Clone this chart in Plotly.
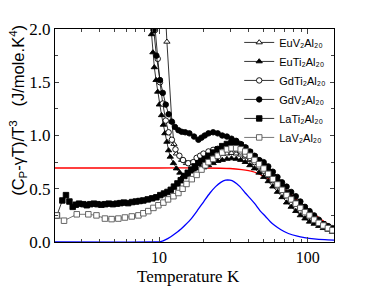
import plotly.graph_objects as go

# ---------------- data ----------------
T_EuV = [10.9, 11.3, 12.2, 12.6, 13.1, 14.2, 15.3, 16.2, 17.1, 18.0, 19.0,
         20.0, 21.5, 23.1, 24.8, 26.6, 28.6, 30.7, 33.0, 35.4, 38.0, 40.8, 43.8, 47.0, 50.5, 54.2,
         58.2, 62.5, 67.1, 72.0, 77.3, 83.0, 89.1, 95.7, 102.7, 110.3, 118.4, 127.1, 136.5, 146.5]
V_EuV = [2.30, 1.88, 1.13, 0.92, 0.83, 0.77, 0.74, 0.74, 0.745, 0.75, 0.765,
         0.78, 0.79, 0.80, 0.815, 0.825, 0.83, 0.835, 0.83, 0.82, 0.80, 0.77, 0.74, 0.70, 0.66, 0.62,
         0.57, 0.53, 0.48, 0.44, 0.39, 0.35, 0.31, 0.28, 0.24, 0.21, 0.18, 0.155, 0.13, 0.11]

T_EuTi = [8.5, 8.9, 9.1, 9.3, 9.55, 9.8, 10.05, 10.4, 10.7, 10.95, 11.3, 11.6, 11.9, 12.5, 13.1,
          13.8, 14.5, 15.3, 16.1, 17.0, 18.0, 19.0,
          20.0, 21.5, 23.1, 24.8, 26.6, 28.6, 30.7, 33.0, 35.4, 38.0, 40.8, 43.8, 47.0, 50.5, 54.2,
          58.2, 62.5, 67.1, 72.0, 77.3, 83.0, 89.1, 95.7, 102.7, 110.3, 118.4, 127.1, 136.5, 146.5]
V_EuTi = [2.30, 1.95, 1.78, 1.64, 1.52, 1.41, 1.29, 1.19, 1.10, 1.02, 0.94, 0.86, 0.80, 0.74, 0.69,
          0.65, 0.62, 0.63, 0.66, 0.68, 0.69, 0.695,
          0.70, 0.72, 0.74, 0.76, 0.77, 0.78, 0.785, 0.78, 0.77, 0.75, 0.72, 0.69, 0.65, 0.61, 0.57,
          0.52, 0.47, 0.42, 0.37, 0.33, 0.29, 0.25, 0.22, 0.19, 0.17, 0.15, 0.13, 0.115, 0.095]

T_GdTi = [9.0, 9.4, 9.8, 10.15, 10.6, 11.1, 11.6, 12.2, 12.9, 13.7, 14.5, 15.7, 17.0, 17.9, 18.9,
          19.9, 21.5, 23.1, 24.8, 26.6, 28.6, 30.7, 33.0, 35.4, 38.0, 40.8, 43.8, 47.0, 50.5, 54.2,
          58.2, 62.5, 67.1, 72.0, 77.3, 83.0, 89.1, 95.7, 102.7, 110.3, 118.4, 127.1, 136.5, 146.5]
V_GdTi = [2.30, 1.99, 1.72, 1.50, 1.30, 1.14, 1.03, 0.96, 0.87, 0.81, 0.77, 0.74, 0.75, 0.79, 0.81,
          0.83, 0.85, 0.865, 0.875, 0.88, 0.885, 0.88, 0.87, 0.85, 0.82, 0.79, 0.75, 0.71, 0.67, 0.63,
          0.58, 0.53, 0.49, 0.44, 0.40, 0.36, 0.32, 0.28, 0.25, 0.22, 0.19, 0.16, 0.14, 0.115]

T_GdV = [8.6, 9.2, 9.6, 10.15, 10.6, 11.1, 11.6, 12.2, 12.8, 13.5, 14.2, 15.0, 16.0, 17.2, 18.4,
         19.3, 20.3, 21.5, 23.1, 24.8, 26.6, 28.6, 30.7, 33.0, 35.4, 38.0, 40.8, 43.8, 47.0, 50.5,
         54.2, 58.2, 62.5, 67.1, 72.0, 77.3, 83.0, 89.1, 95.7, 102.7, 110.3, 118.4, 127.1, 136.5, 146.5]
V_GdV = [2.40, 1.99, 1.75, 1.52, 1.40, 1.29, 1.20, 1.13, 1.08, 1.05, 1.035, 1.03, 1.02, 0.99, 0.96,
         0.98, 1.00, 1.02, 1.03, 1.02, 1.00, 0.99, 0.97, 0.95, 0.92, 0.89, 0.85, 0.81, 0.77, 0.75,
         0.71, 0.66, 0.61, 0.56, 0.52, 0.47, 0.43, 0.38, 0.33, 0.29, 0.25, 0.21, 0.17, 0.15, 0.13]

T_LaTi = [2.06, 2.24, 2.37, 2.5, 2.63, 2.76, 2.9, 3.1, 3.27, 3.45, 3.65, 3.85, 4.1, 4.35, 4.6,
          4.9, 5.2, 5.5, 5.8, 6.2, 6.6, 7.0, 7.4, 7.85, 8.4, 9.0, 9.6, 10.2, 10.8, 11.4, 12.0,
          12.6, 13.3, 14.0, 14.8, 15.6, 16.5, 17.4, 18.4, 19.3,
          20.3, 21.5, 23.1, 24.8, 26.6, 28.6, 30.7, 33.0, 35.4, 38.0, 40.8, 43.8, 47.0, 50.5, 54.2,
          58.2, 62.5, 67.1, 72.0, 77.3, 83.0, 89.1, 95.7, 102.7, 110.3, 118.4, 127.1, 136.5, 146.5]
V_LaTi = [0.25, 0.39, 0.44, 0.38, 0.33, 0.35, 0.36, 0.355, 0.345, 0.355, 0.36, 0.355, 0.35, 0.355, 0.36,
          0.355, 0.36, 0.365, 0.37, 0.365, 0.375, 0.38, 0.385, 0.39, 0.40, 0.41, 0.42, 0.44, 0.455, 0.47, 0.49,
          0.52, 0.55, 0.58, 0.62, 0.65, 0.68, 0.71, 0.74, 0.76,
          0.78, 0.81, 0.84, 0.87, 0.90, 0.92, 0.93, 0.93, 0.91, 0.88, 0.84, 0.80, 0.76, 0.71, 0.66,
          0.61, 0.56, 0.51, 0.46, 0.41, 0.37, 0.33, 0.29, 0.26, 0.22, 0.19, 0.165, 0.14, 0.115]

T_LaV = [2.05, 2.3, 2.8, 3.35, 3.8, 4.33, 4.8, 5.33, 5.9, 6.56, 7.27, 7.85, 8.47, 9.17, 9.9,
         10.7, 11.5, 12.5, 13.5, 14.4, 15.3, 16.6, 17.9, 19.3,
         20.5, 21.5, 23.1, 24.8, 26.6, 28.6, 30.7, 33.0, 35.4, 38.0, 40.8, 43.8, 47.0, 50.5, 54.2,
         58.2, 62.5, 67.1, 72.0, 77.3, 83.0, 89.1, 95.7, 102.7, 110.3, 118.4, 127.1, 136.5, 146.5]
V_LaV = [0.25, 0.20, 0.26, 0.26, 0.25, 0.22, 0.215, 0.22, 0.23, 0.24, 0.25, 0.27, 0.29, 0.32, 0.345,
         0.37, 0.40, 0.43, 0.46, 0.50, 0.545, 0.59, 0.63, 0.68,
         0.72, 0.75, 0.78, 0.81, 0.84, 0.87, 0.88, 0.88, 0.87, 0.85, 0.81, 0.77, 0.73, 0.69, 0.64,
         0.59, 0.54, 0.49, 0.44, 0.40, 0.36, 0.32, 0.28, 0.25, 0.21, 0.18, 0.155, 0.13, 0.11]

T_red = [2, 10, 20, 30, 36, 40, 44, 50, 57, 65, 74, 85, 95, 108, 123, 137, 150]
V_red = [0.695, 0.695, 0.695, 0.69, 0.68, 0.67, 0.655, 0.62, 0.58, 0.52, 0.47, 0.39, 0.33, 0.27, 0.21, 0.165, 0.125]

T_blue = [2, 9.5, 10.2, 11, 12, 13, 14, 15, 16.5, 18, 20, 22, 24, 26, 28, 30, 32, 35, 38, 41, 44,
          48, 52, 56, 60, 66, 74, 85, 95, 110, 130, 150]
V_blue = [0, 0, 0.003, 0.02, 0.05, 0.085, 0.12, 0.16, 0.22, 0.29, 0.38, 0.46, 0.52, 0.56, 0.58, 0.58,
          0.565, 0.52, 0.46, 0.41, 0.36, 0.29, 0.24, 0.19, 0.155, 0.115, 0.08, 0.055, 0.042, 0.03, 0.022, 0.018]

x_tickvals = [10, 100]
x_ticktext = ["10", "100"]
x_minor = [2, 3, 4, 5, 6, 7, 8, 9, 20, 30, 40, 50, 60, 70, 80, 90]

series = [
    ("EuV\u2082Al\u2082\u2080", T_EuV, V_EuV, "triangle-up", "white", "black"),
    ("EuTi\u2082Al\u2082\u2080", T_EuTi, V_EuTi, "triangle-up", "black", "black"),
    ("GdTi\u2082Al\u2082\u2080", T_GdTi, V_GdTi, "circle", "white", "black"),
    ("GdV\u2082Al\u2082\u2080", T_GdV, V_GdV, "circle", "black", "black"),
    ("LaTi\u2082Al\u2082\u2080", T_LaTi, V_LaTi, "square", "black", "black"),
    ("LaV\u2082Al\u2082\u2080", T_LaV, V_LaV, "square", "white", "#555555"),
]

fig = go.Figure()

fig.add_trace(go.Scatter(x=T_red, y=V_red, mode="lines",
                         line=dict(color="#ff0000", width=1.3, shape="spline", smoothing=0.6),
                         showlegend=False))
fig.add_trace(go.Scatter(x=T_blue, y=V_blue, mode="lines",
                         line=dict(color="#0000ff", width=1.3, shape="spline", smoothing=0.6),
                         showlegend=False))

for name, xs, ys, sym, fill, lc in series:
    fig.add_trace(go.Scatter(
        x=xs, y=ys, name=name, mode="lines+markers",
        line=dict(color=lc, width=0.8),
        marker=dict(symbol=sym, size=5.5, color=fill, line=dict(color=lc, width=0.9)),
    ))

serif = "Liberation Serif, Times New Roman, serif"
sans = "Liberation Sans, Arial, sans-serif"

fig.add_annotation(
    text="(C<sub>P</sub>-γT)/T<sup>3</sup>\u00a0\u00a0\u00a0(J/mole.K<sup>4</sup>)",
    xref="paper", yref="paper", x=-0.133, y=0.62, textangle=-90,
    showarrow=False, font=dict(family=sans, size=16.5, color="black"),
    xanchor="center", yanchor="middle",
)
fig.add_annotation(
    text="Temperature K",
    xref="paper", yref="paper", x=0.48, y=-0.112,
    showarrow=False, font=dict(family=serif, size=17, color="black"),
    xanchor="center", yanchor="top", borderpad=0,
)

fig.update_layout(
    width=364, height=278,
    margin=dict(l=47, r=38, t=21, b=44),
    paper_bgcolor="white", plot_bgcolor="white",
    font=dict(family=serif, color="black", size=17),
    legend=dict(x=0.99, y=1.005, xanchor="right", yanchor="top",
                bgcolor="rgba(0,0,0,0)", font=dict(family=sans, size=11),
                itemwidth=30, tracegroupgap=0),
    xaxis=dict(
        type="log", range=[0.301, 2.176], automargin=False,
        tickvals=x_tickvals, ticktext=x_ticktext,
        ticks="inside", ticklen=5, tickwidth=1, ticklabelstandoff=1,
        minor=dict(tickvals=x_minor, ticks="inside", ticklen=3, tickwidth=1, showgrid=False),
        showline=True, linecolor="black", linewidth=1, mirror="ticks",
        showgrid=False, zeroline=False,
        tickfont=dict(family=serif, size=16),
    ),
    yaxis=dict(
        range=[0, 2.0], dtick=0.5, tickformat=".1f", automargin=False,
        ticks="inside", ticklen=4, tickwidth=1,
        minor=dict(dtick=0.25, ticks="inside", ticklen=3, tickwidth=1, showgrid=False),
        showline=True, linecolor="black", linewidth=1, mirror="ticks",
        showgrid=False, zeroline=False,
        tickfont=dict(family=serif, size=17),
    ),
)

fig.write_html("out.html")
